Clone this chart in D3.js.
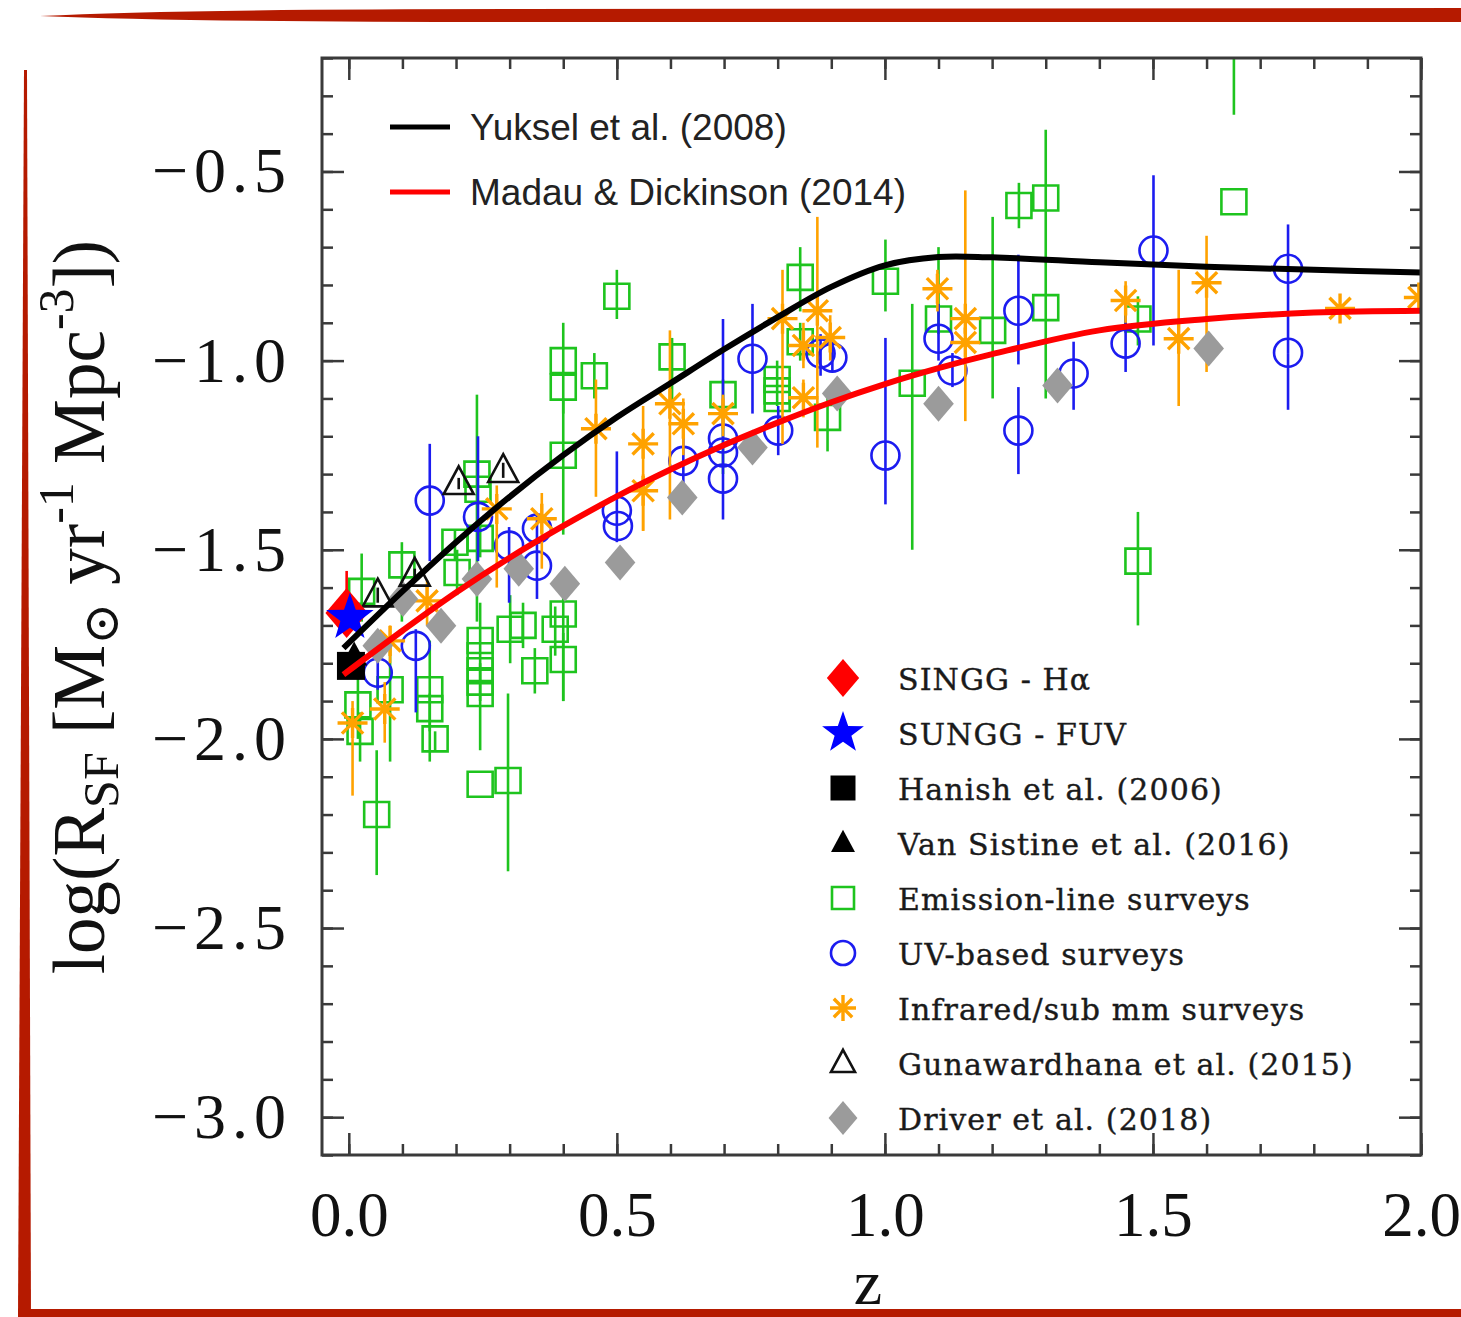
<!DOCTYPE html>
<html>
<head>
<meta charset="utf-8">
<script src="https://cdn.jsdelivr.net/npm/d3@7"></script>
<style>
  body { margin: 0; background: #fff; }
  svg { display: block; }
</style>
</head>
<body>
<div id="chart"></div>
<script>
// Axis tick labels.
var xTickLabels = [0.0, 0.5, 1.0, 1.5, 2.0];
var yTickLabels = [-3.0, -2.5, -2.0, -1.5, -1.0, -0.5];

// Model curves: z and log(R_SF).
var curveZ = [-0.01, 0.1, 0.2, 0.3, 0.4, 0.5, 0.6, 0.7, 0.8, 0.9, 1.0, 1.1, 1.2, 1.4, 1.6, 1.8, 2.0];
var yukselSFR = [-1.76, -1.61, -1.48, -1.36, -1.25, -1.15, -1.06, -0.97, -0.885, -0.805, -0.748, -0.726, -0.727, -0.74, -0.752, -0.76, -0.767];
var madauSFR = [-1.83, -1.714, -1.613, -1.521, -1.437, -1.359, -1.288, -1.223, -1.164, -1.11, -1.062, -1.02, -0.983, -0.92, -0.89, -0.873, -0.868];

// Points: [z, logR, lower end of error bar, upper end of error bar].
var emissionLine = [
  [0.024, -1.61, -1.69, -1.51], [0.017, -1.91, -2.00, -1.80], [0.021, -1.98, -2.06, -1.93],
  [0.077, -1.87, -2.06, -1.74], [0.052, -2.20, -2.36, -2.03], [0.099, -1.54, -1.69, -1.48],
  [0.151, -1.87, -2.06, -1.74], [0.151, -1.92, -1.98, -1.88], [0.161, -2.00, -2.03, -1.98],
  [0.198, -1.48, -1.53, -1.45], [0.202, -1.56, -1.62, -1.50], [0.239, -1.30, -1.69, -1.09],
  [0.241, -1.34, null, null], [0.245, -1.47, -1.52, -1.42], [0.245, -1.74, -1.90, -1.64],
  [0.245, -1.78, null, null], [0.245, -1.82, null, null], [0.245, -1.85, null, null],
  [0.245, -1.88, -2.03, -1.80], [0.245, -2.12, null, null], [0.297, -2.11, -2.35, -1.88],
  [0.301, -1.71, -1.80, -1.62], [0.325, -1.70, -1.76, -1.64], [0.347, -1.82, -1.88, -1.76],
  [0.385, -1.71, -1.78, -1.65], [0.400, -1.67, -1.90, -1.60], [0.400, -1.79, -1.90, -1.72],
  [0.400, -1.00, -1.14, -0.90], [0.400, -1.07, null, null], [0.400, -1.25, -1.46, -1.10],
  [0.458, -1.04, -1.10, -0.98], [0.500, -0.83, -0.89, -0.76], [0.603, -0.99, -1.11, -0.94],
  [0.698, -1.09, -1.30, -1.05], [0.799, -1.05, -1.12, -1.00], [0.799, -1.08, null, null],
  [0.799, -1.10, null, null], [0.842, -0.78, -0.87, -0.70], [0.842, -0.95, -1.00, -0.90],
  [0.893, -1.15, -1.24, -1.08], [1.001, -0.79, -0.87, -0.68], [1.051, -1.06, -1.50, -0.85],
  [1.100, -0.89, -0.93, -0.70], [1.201, -0.92, -1.10, -0.62], [1.250, -0.59, -0.65, -0.53],
  [1.300, -0.57, -1.10, -0.39], [1.300, -0.86, null, null], [1.472, -0.89, -0.96, -0.83],
  [1.472, -1.53, -1.70, -1.40], [1.651, -0.58, null, null], [1.651, 0.05, -0.35, 0.40]
];

var uvBased = [
  [0.054, -1.825, -1.87, -1.78], [0.125, -1.754, -1.93, -1.71], [0.151, -1.370, -1.53, -1.22],
  [0.241, -1.413, -1.53, -1.20], [0.299, -1.489, -1.64, -1.44], [0.351, -1.444, -1.48, -1.41],
  [0.351, -1.542, -1.63, -1.48], [0.500, -1.397, -1.48, -1.24], [0.502, -1.437, null, null],
  [0.624, -1.265, -1.33, -1.18], [0.698, -1.206, -1.42, -0.89], [0.698, -1.243, null, null],
  [0.698, -1.312, null, null], [0.753, -0.995, -1.14, -0.85], [0.801, -1.185, -1.25, -1.12],
  [0.880, -0.981, -1.04, -0.93], [0.902, -0.992, -1.03, -0.95], [1.001, -1.251, -1.38, -0.94],
  [1.100, -0.942, -1.00, -0.85], [1.126, -1.026, -1.07, -0.98], [1.249, -0.868, -1.01, -0.72],
  [1.249, -1.185, -1.30, -1.07], [1.352, -1.034, -1.13, -0.95], [1.449, -0.955, -1.03, -0.88],
  [1.501, -0.709, -0.96, -0.51], [1.752, -0.757, -0.98, -0.64], [1.752, -0.979, -1.13, -0.98]
];

var infrared = [
  [0.007, -1.958, -2.15, -1.90], [0.067, -1.921, -2.01, -1.85], [0.077, -1.741, -1.80, -1.70],
  [0.146, -1.635, -1.70, -1.58], [0.276, -1.392, -1.60, -1.33], [0.360, -1.418, -1.55, -1.35],
  [0.461, -1.180, -1.36, -1.05], [0.549, -1.220, -1.45, -1.12], [0.549, -1.344, -1.45, -1.30],
  [0.599, -1.114, -1.42, -0.92], [0.624, -1.167, -1.25, -1.10], [0.698, -1.140, -1.20, -1.09],
  [0.809, -0.889, -1.22, -0.76], [0.848, -0.960, -1.02, -0.90], [0.848, -1.098, -1.15, -1.05],
  [0.874, -0.868, -1.23, -0.62], [0.898, -0.939, -1.00, -0.88], [1.098, -0.810, -0.87, -0.76],
  [1.150, -0.889, -1.16, -0.55], [1.150, -0.952, null, null], [1.449, -0.841, -0.90, -0.79],
  [1.548, -0.942, -1.12, -0.76], [1.600, -0.794, -1.03, -0.67], [1.849, -0.862, null, null],
  [1.996, -0.833, null, null]
];

var gunawardhana = [
  [0.054, -1.62, -1.64, -1.60], [0.123, -1.565, -1.58, -1.55],
  [0.205, -1.323, -1.34, -1.31], [0.288, -1.291, -1.31, -1.27]
];

var driver = [
  [0.054, -1.754, -1.78, -1.73], [0.101, -1.630, -1.65, -1.61], [0.172, -1.701, -1.72, -1.68],
  [0.239, -1.577, -1.60, -1.56], [0.317, -1.550, -1.57, -1.53], [0.403, -1.590, -1.61, -1.57],
  [0.506, -1.534, -1.56, -1.51], [0.622, -1.362, -1.39, -1.34], [0.753, -1.230, -1.26, -1.20],
  [0.911, -1.087, -1.12, -1.06], [1.100, -1.114, -1.14, -1.09], [1.322, -1.066, -1.09, -1.04],
  [1.604, -0.968, -1.01, -0.93]
];

var singgHa = [[-0.004, -1.667, -1.70, -1.556]];
var sunggFuv = [[0.002, -1.68, null, null]];
var hanish = [[0.004, -1.807, null, null]];
var vanSistine = [[0.01, -1.78, null, null]];

var legendLabels = [
  "SINGG - H\u03b1", "SUNGG - FUV", "Hanish et al. (2006)", "Van Sistine et al. (2016)",
  "Emission-line surveys", "UV-based surveys", "Infrared/sub mm surveys",
  "Gunawardhana et al. (2015)", "Driver et al. (2018)"
];

var W = 1461, H = 1317;
var plot = {left: 322, right: 1421, top: 58, bottom: 1155};

var svg = d3.select("#chart").append("svg").attr("width", W).attr("height", H);

// Slide decoration (red strokes round the picture).
var deco = "#b51a00";
svg.append("path").attr("fill", deco)
  .attr("d", "M40,16 Q180,9 520,9 L1461,8 L1461,22 L520,22 Q180,22 40,16 Z");
svg.append("path").attr("fill", deco)
  .attr("d", "M24,70 L27,70 L31,1317 L18,1317 Z");
svg.append("rect").attr("fill", deco).attr("x", 18).attr("y", 1309).attr("width", W - 18).attr("height", 8);

var x = d3.scaleLinear().domain([-0.05, 2.0]).range([plot.left, plot.right]);
var y = d3.scaleLinear().domain([-3.1, -0.2]).range([plot.bottom, plot.top]);

var minorX = d3.range(0, 2.001, 0.1);
var minorY = d3.range(-3.1, -0.2 + 0.001, 0.1);

var axisColor = "#3a3a3a";
var numFont = "'Liberation Serif', 'DejaVu Serif', serif";

function tickG(axis, transform) {
  var g = svg.append("g").attr("transform", transform).call(axis);
  g.select(".domain").remove();
  g.selectAll(".tick line").attr("stroke", axisColor).attr("stroke-width", 2.5);
  return g;
}

// minor ticks on all four sides
tickG(d3.axisBottom(x).tickValues(minorX).tickSize(-11).tickFormat(""), "translate(0," + plot.bottom + ")");
tickG(d3.axisTop(x).tickValues(minorX).tickSize(-11).tickFormat(""), "translate(0," + plot.top + ")");
tickG(d3.axisLeft(y).tickValues(minorY).tickSize(-11).tickFormat(""), "translate(" + plot.left + ",0)");
tickG(d3.axisRight(y).tickValues(minorY).tickSize(-11).tickFormat(""), "translate(" + plot.right + ",0)");

// major ticks with labels
var xAxis = tickG(d3.axisBottom(x).tickValues(xTickLabels).tickSize(-22).tickPadding(36).tickFormat(d3.format(".1f")),
  "translate(0," + plot.bottom + ")");
xAxis.selectAll("text").attr("font-family", numFont).attr("font-size", 63)
  .attr("fill", "#111").attr("dy", "0.71em");
tickG(d3.axisTop(x).tickValues(xTickLabels).tickSize(-22).tickFormat(""), "translate(0," + plot.top + ")");

var yAxis = tickG(d3.axisLeft(y).tickValues(yTickLabels).tickSize(-22).tickPadding(30).tickFormat(d3.format(".1f")),
  "translate(" + plot.left + ",0)");
yAxis.selectAll("text").attr("font-family", numFont).attr("font-size", 64)
  .attr("fill", "#111").attr("letter-spacing", 6);
tickG(d3.axisRight(y).tickValues(yTickLabels).tickSize(-22).tickFormat(""), "translate(" + plot.right + ",0)");

// Axis titles
svg.append("text").attr("x", 868).attr("y", 1304).attr("text-anchor", "middle")
  .attr("font-family", numFont).attr("font-size", 64).attr("fill", "#111").text("z");

var yTitle = svg.append("text")
  .attr("transform", "translate(104,607) rotate(-90)")
  .attr("text-anchor", "middle")
  .attr("font-family", numFont).attr("font-size", 73).attr("fill", "#111");
yTitle.append("tspan").text("log(R");
yTitle.append("tspan").attr("font-size", 50).attr("dy", 14).text("SF");
yTitle.append("tspan").attr("dy", -14).text(" [M");
yTitle.append("tspan").attr("font-size", 50).attr("dy", 14).text("\u2299");
yTitle.append("tspan").attr("dy", -14).text(" yr");
yTitle.append("tspan").attr("font-size", 50).attr("dy", -31).text("-1");
yTitle.append("tspan").attr("dy", 31).text(" Mpc");
yTitle.append("tspan").attr("font-size", 50).attr("dy", -31).text("-3");
yTitle.append("tspan").attr("dy", 31).text("])");

// Data layer
svg.append("clipPath").attr("id", "plotClip").append("rect")
  .attr("x", plot.left).attr("y", plot.top)
  .attr("width", plot.right - plot.left).attr("height", plot.bottom - plot.top);
var layer = svg.append("g").attr("clip-path", "url(#plotClip)");

// Marker shapes
function shape(type) {
  switch (type) {
    case "square": return function (s) { return "M" + -s + "," + -s + "H" + s + "V" + s + "H" + -s + "Z"; };
    case "circle": return function (s) { return "M" + -s + ",0A" + s + "," + s + " 0 1,0 " + s + ",0A" + s + "," + s + " 0 1,0 " + -s + ",0Z"; };
    case "diamond": return function (s) { var w = s * 0.85; return "M0," + -s + "L" + w + ",0L0," + s + "L" + -w + ",0Z"; };
    case "triangle": return function (s) {
      return "M0," + (-s * 1.1) + "L" + s + "," + (s * 0.75) + "L" + -s + "," + (s * 0.75) + "Z";
    };
    case "star": return function (s) {
      var p = [];
      for (var i = 0; i < 10; i++) {
        var r = i % 2 ? s * 0.4 : s;
        var a = -Math.PI / 2 + i * Math.PI / 5;
        p.push([r * Math.cos(a), r * Math.sin(a)]);
      }
      return "M" + p.join("L") + "Z";
    };
    case "asterisk": return function (s) {
      var d = "";
      [90, 0, 45, 135].forEach(function (deg) {
        var a = deg * Math.PI / 180;
        d += "M" + (-s * Math.cos(a)) + "," + (-s * Math.sin(a)) + "L" + (s * Math.cos(a)) + "," + (s * Math.sin(a));
      });
      return d;
    };
  }
}

var series = [
  {data: emissionLine, type: "square", size: 12.5, color: "#1ec41e", fill: "none", bar: "#1ec41e", sw: 2.6},
  {data: uvBased, type: "circle", size: 14, color: "#1c1cf0", fill: "none", bar: "#1c1cf0", sw: 2.6},
  {data: infrared, type: "asterisk", size: 15, color: "#ffa200", fill: "none", bar: "#ffa200", sw: 3.4},
  {data: driver, type: "diamond", size: 18, color: "none", fill: "#9b9b9b", bar: "#555", sw: 2.6},
  {data: gunawardhana, type: "triangle", size: 15, color: "#111", fill: "none", bar: "#111", sw: 2.6},
  {data: vanSistine, type: "triangle", size: 13, color: "none", fill: "#000", bar: "#000", sw: 2.6},
  {data: singgHa, type: "diamond", size: 25, color: "none", fill: "#ff0000", bar: "#ff0000", sw: 2.6},
  {data: sunggFuv, type: "star", size: 25, color: "none", fill: "#0000ff", bar: "#0000ff", sw: 2.6},
  {data: hanish, type: "square", size: 14, color: "none", fill: "#000", bar: "#000", sw: 2.6}
];

series.forEach(function (s) {
  var g = layer.append("g");
  g.selectAll("line.err")
    .data(s.data.filter(function (d) { return d[2] !== null; }))
    .enter().append("line").attr("class", "err")
    .attr("x1", function (d) { return x(d[0]); }).attr("x2", function (d) { return x(d[0]); })
    .attr("y1", function (d) { return y(d[2]); }).attr("y2", function (d) { return y(d[3]); })
    .attr("stroke", s.bar).attr("stroke-width", 2.6);
  g.selectAll("path.mk")
    .data(s.data).enter().append("path").attr("class", "mk")
    .attr("transform", function (d) { return "translate(" + x(d[0]) + "," + y(d[1]) + ")"; })
    .attr("d", shape(s.type)(s.size))
    .attr("fill", s.fill).attr("stroke", s.color).attr("stroke-width", s.sw);
});

// Model curves on top
var line = d3.line().curve(d3.curveCatmullRom.alpha(0.5))
  .x(function (d) { return x(d[0]); }).y(function (d) { return y(d[1]); });
layer.append("path").datum(d3.zip(curveZ, madauSFR)).attr("d", line)
  .attr("fill", "none").attr("stroke", "#ff0000").attr("stroke-width", 6);
layer.append("path").datum(d3.zip(curveZ, yukselSFR)).attr("d", line)
  .attr("fill", "none").attr("stroke", "#000").attr("stroke-width", 6);

// Frame
svg.append("rect").attr("x", plot.left).attr("y", plot.top)
  .attr("width", plot.right - plot.left).attr("height", plot.bottom - plot.top)
  .attr("fill", "none").attr("stroke", axisColor).attr("stroke-width", 3);

// Curve legend (top left)
var sansFont = "'Liberation Sans', Arial, sans-serif";
[["Yuksel et al. (2008)", "#000", 127], ["Madau & Dickinson (2014)", "#ff0000", 192]].forEach(function (r) {
  svg.append("line").attr("x1", 390).attr("x2", 450).attr("y1", r[2]).attr("y2", r[2])
    .attr("stroke", r[1]).attr("stroke-width", 5);
  svg.append("text").attr("x", 470).attr("y", r[2] + 13)
    .attr("font-family", sansFont).attr("font-size", 37).attr("fill", "#222").text(r[0]);
});

// Symbol legend (bottom right)
var legendSym = [
  {type: "diamond", size: 19, fill: "#ff0000", stroke: "none"},
  {type: "star", size: 22, fill: "#0000ff", stroke: "none"},
  {type: "square", size: 12.5, fill: "#000", stroke: "none"},
  {type: "triangle", size: 12, fill: "#000", stroke: "none"},
  {type: "square", size: 11, fill: "none", stroke: "#1ec41e"},
  {type: "circle", size: 12, fill: "none", stroke: "#1c1cf0"},
  {type: "asterisk", size: 13, fill: "none", stroke: "#ffa200"},
  {type: "triangle", size: 12, fill: "none", stroke: "#111"},
  {type: "diamond", size: 17, fill: "#9b9b9b", stroke: "none"}
];
var legY = d3.scalePoint().domain(d3.range(legendLabels.length)).range([678, 1118]);
var leg = svg.append("g").selectAll("g").data(legendLabels).enter().append("g")
  .attr("transform", function (d, i) { return "translate(0," + legY(i) + ")"; });
leg.append("path")
  .attr("transform", "translate(843,0)")
  .attr("d", function (d, i) { return shape(legendSym[i].type)(legendSym[i].size); })
  .attr("fill", function (d, i) { return legendSym[i].fill; })
  .attr("stroke", function (d, i) { return legendSym[i].stroke; })
  .attr("stroke-width", function (d, i) { return legendSym[i].type === "asterisk" ? 3.4 : 2.6; });
leg.append("text").attr("x", 898).attr("y", 12)
  .attr("font-family", "'DejaVu Serif', serif").attr("font-size", 30).attr("fill", "#1a1a1a")
  .attr("letter-spacing", 1.1).attr("stroke", "#1a1a1a").attr("stroke-width", 0.4)
  .text(function (d) { return d; });
</script>
</body>
</html>
